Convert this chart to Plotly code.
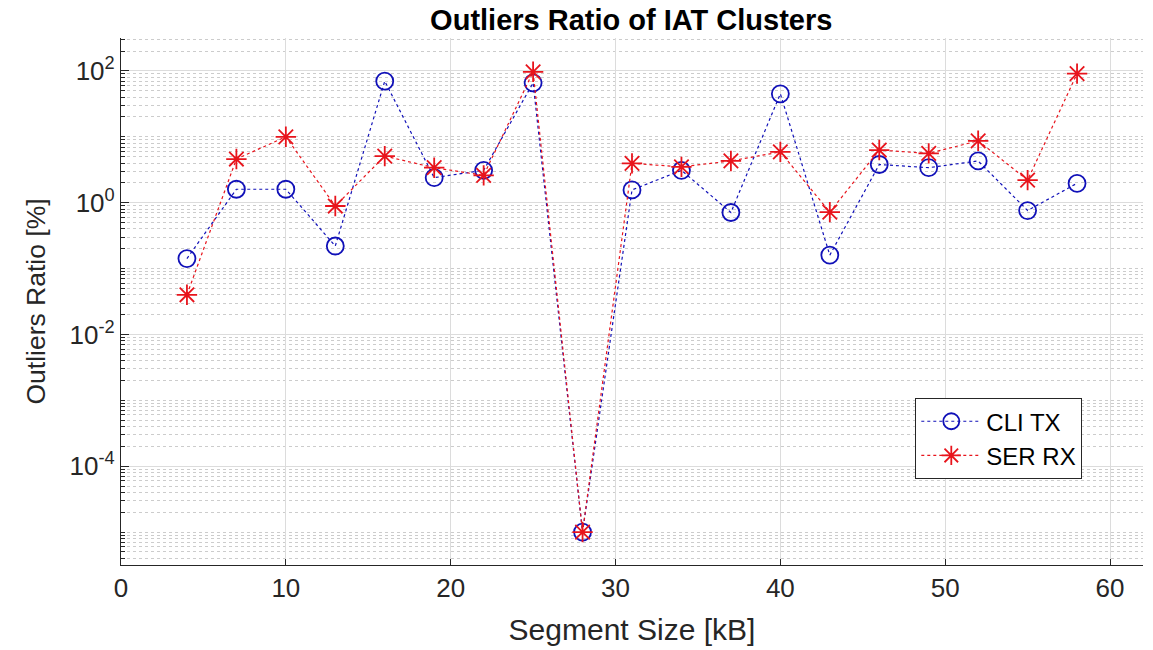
import numpy as np
import plotly.graph_objects as go

segment_kb = [4, 7, 10, 13, 16, 19, 22, 25, 28, 31, 34, 37, 40, 43, 46, 49, 52, 55, 58]
cli_tx = [0.142, 1.6, 1.6, 0.22, 70, 2.4, 3.1, 66, 1e-5, 1.56, 3.1, 0.71, 45, 0.16, 3.8, 3.4, 4.3, 0.76, 1.97]
ser_rx = [0.040, 4.6, 10, 0.89, 5.1, 3.4, 2.6, 97, 1e-5, 3.95, 3.5, 4.3, 5.9, 0.72, 6.3, 5.6, 8.7, 2.2, 91]

y_tick_vals = [1e-4, 1e-2, 1, 1e2]
y_tick_text = ["10<sup>-4</sup>", "10<sup>-2</sup>", "10<sup>0</sup>", "10<sup>2</sup>"]
x_tick_vals = [0, 10, 20, 30, 40, 50, 60]

minor_vals = [m * 10.0 ** e for e in range(-6, 3) for m in range(1, 10)]
minor_vals = [v for v in minor_vals if v not in y_tick_vals]

BLUE = "#1010b8"
RED = "#e8141c"
FONT = "Liberation Sans, Arial, sans-serif"

fig = go.Figure()
fig.add_trace(go.Scatter(
    x=segment_kb, y=cli_tx, name="CLI TX", mode="lines+markers",
    line=dict(color=BLUE, width=1.2, dash="dot"),
    marker=dict(symbol="circle-open", size=17, color=BLUE, line=dict(width=1.8, color=BLUE)),
))
fig.add_trace(go.Scatter(
    x=segment_kb, y=ser_rx, name="SER RX", mode="lines+markers",
    line=dict(color=RED, width=1.2, dash="dot"),
    marker=dict(symbol="asterisk-open", size=17, color=RED, line=dict(width=1.8, color=RED)),
))

fig.update_layout(
    width=1153, height=650,
    margin=dict(l=121, r=10, t=38, b=85),
    paper_bgcolor="white", plot_bgcolor="white",
    font=dict(family=FONT, size=24, color="#262626"),
    title=dict(text="<b>Outliers Ratio of IAT Clusters</b>", x=0.5475, xanchor="center",
               y=0.969, yanchor="middle", font=dict(size=29, color="black", family=FONT)),
    showlegend=True,
    legend=dict(x=0.777, y=0.317, xanchor="left", yanchor="top",
                bgcolor="white", bordercolor="#262626", borderwidth=1.2,
                font=dict(size=24, color="black"), itemwidth=60, tracegroupgap=0),
)

fig.update_xaxes(
    range=[0, 62], tickvals=x_tick_vals, ticks="inside", ticklen=6, tickcolor="#262626",
    showline=True, linecolor="#262626", linewidth=1.2, mirror=False,
    showgrid=True, gridcolor="#dcdcdc", gridwidth=1, zeroline=False,
    title=dict(text="Segment Size [kB]", font=dict(size=30, color="#262626"), standoff=16),
    tickfont=dict(size=26, color="#262626"),
)
fig.update_yaxes(
    type="log", range=[-5.5, 2.5], tickvals=y_tick_vals, ticktext=y_tick_text,
    ticks="inside", ticklen=8, tickcolor="#262626",
    showline=True, linecolor="#262626", linewidth=1.2, mirror=False,
    showgrid=True, gridcolor="#dcdcdc", gridwidth=1, zeroline=False,
    minor=dict(tickmode="array", tickvals=minor_vals, ticks="inside", ticklen=4,
               tickcolor="#262626", showgrid=True, gridcolor="#cccccc", griddash="dot", gridwidth=1),
    title=dict(text="Outliers Ratio [%]", font=dict(size=26.5, color="#262626"), standoff=16),
    tickfont=dict(size=26, color="#262626"),
)

fig.write_html("out.html")
